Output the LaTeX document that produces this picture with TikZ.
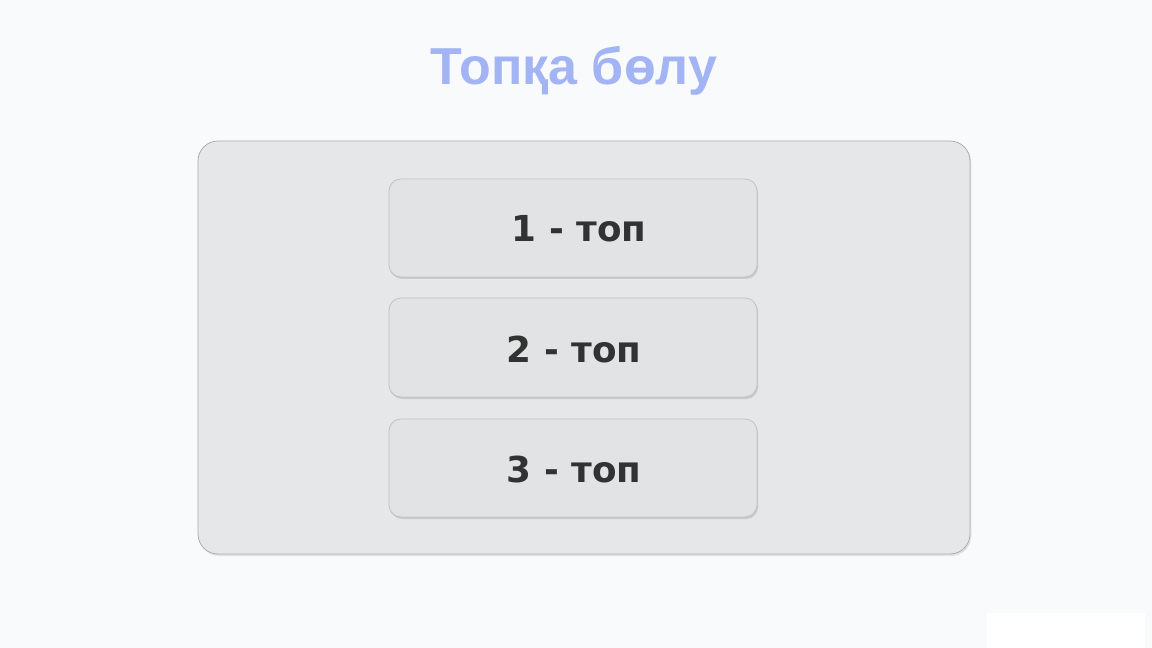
\documentclass[tikz,border=0pt]{standalone}
\usepackage{fontspec}
\setmainfont{DejaVu Sans}
\newfontfamily\titlefont{Liberation Sans}
\usetikzlibrary{shadows}
\definecolor{bgc}{HTML}{F9FAFB}
\definecolor{outerfill}{HTML}{E5E7E8}
\definecolor{innerfill}{HTML}{E1E3E4}
\definecolor{edgec}{HTML}{ABADAF}
\definecolor{inedgec}{HTML}{BFC1C3}
\definecolor{titlec}{HTML}{A2B4F4}
\definecolor{txtc}{HTML}{323232}
\tikzset{
  outerbox/.style={draw=edgec, line width=0.6pt, fill=outerfill, rounded corners=15pt,
    drop shadow={opacity=0.2, shadow xshift=1pt, shadow yshift=-1.5pt}},
  groupbox/.style={draw=inedgec, line width=0.6pt, fill=innerfill, rounded corners=9pt,
    drop shadow={opacity=0.28, shadow xshift=0.8pt, shadow yshift=-1.5pt}},
  grouplabel/.style={font=\fontsize{26.8pt}{30pt}\selectfont\bfseries, text=txtc, inner sep=0pt},
}
\begin{document}
\begin{tikzpicture}[x=0.75pt,y=-0.75pt]
\useasboundingbox (0,0) rectangle (1152,648);
\fill[bgc] (0,0) rectangle (1152,648);
\fill[white] (987,613) rectangle (1145,648);
\node[font=\titlefont\fontsize{39pt}{46pt}\selectfont\bfseries, text=titlec, inner sep=0pt] (title) at (574,71) {Топқа бөлу};
\path[outerbox] (198,141) rectangle (970,554);
\path[groupbox] (389,179) rectangle (757,277);
\path[groupbox] (389,298) rectangle (757,397);
\path[groupbox] (389,419) rectangle (757,517);
\node[grouplabel] (g1) at (579,229) {1 - топ};
\node[grouplabel] (g2) at (574,349) {2 - топ};
\node[grouplabel] (g3) at (574,469) {3 - топ};
\end{tikzpicture}
\end{document}
